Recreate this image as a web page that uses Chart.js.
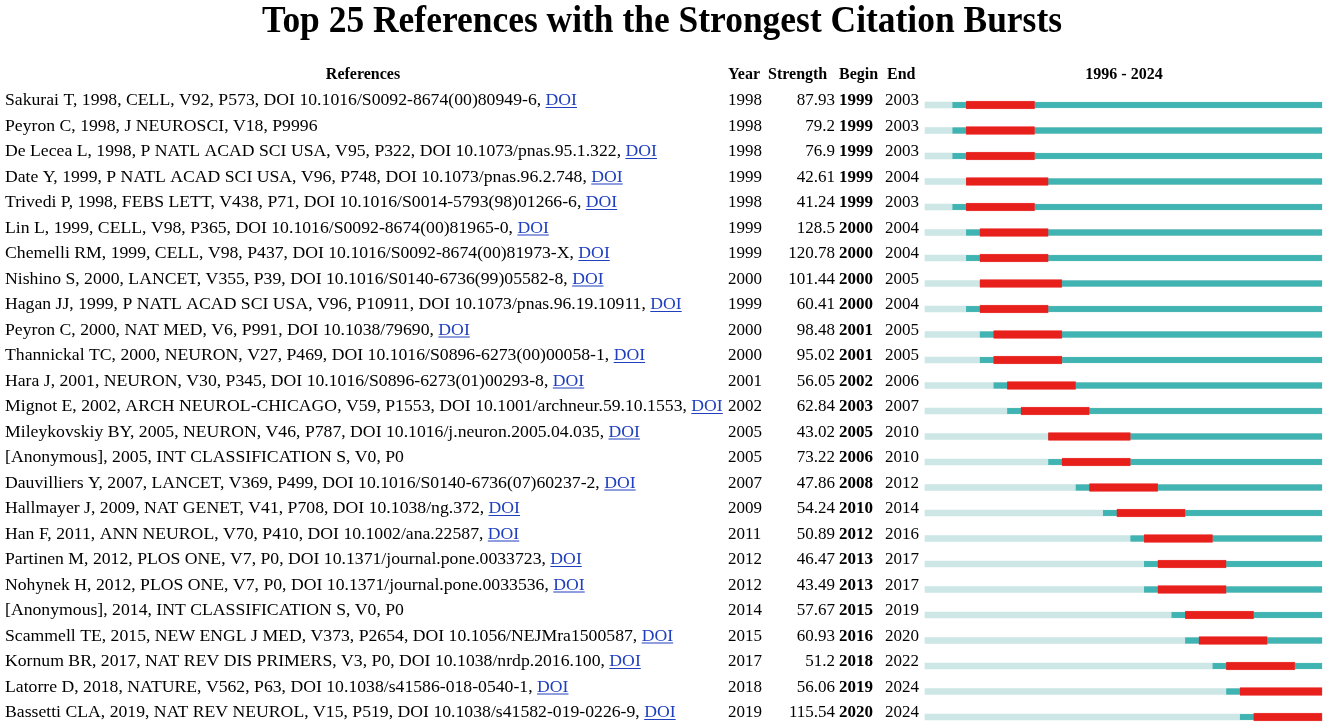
<!DOCTYPE html>
<html>
<head>
<meta charset="utf-8">
<script src="https://cdn.jsdelivr.net/npm/chart.js@4"></script>
<style>
  html, body { margin: 0; padding: 0; background: #fff; }
  canvas { display: block; }
</style>
</head>
<body>
<canvas id="chart" width="1325" height="725"></canvas>
<script>
const TITLE = 'Top 25 References with the Strongest Citation Bursts'
const FIRST_YEAR = 1996
const LAST_YEAR = 2024

const references = [
    'Sakurai T, 1998, CELL, V92, P573, DOI 10.1016/S0092-8674(00)80949-6, ',
    'Peyron C, 1998, J NEUROSCI, V18, P9996',
    'De Lecea L, 1998, P NATL ACAD SCI USA, V95, P322, DOI 10.1073/pnas.95.1.322, ',
    'Date Y, 1999, P NATL ACAD SCI USA, V96, P748, DOI 10.1073/pnas.96.2.748, ',
    'Trivedi P, 1998, FEBS LETT, V438, P71, DOI 10.1016/S0014-5793(98)01266-6, ',
    'Lin L, 1999, CELL, V98, P365, DOI 10.1016/S0092-8674(00)81965-0, ',
    'Chemelli RM, 1999, CELL, V98, P437, DOI 10.1016/S0092-8674(00)81973-X, ',
    'Nishino S, 2000, LANCET, V355, P39, DOI 10.1016/S0140-6736(99)05582-8, ',
    'Hagan JJ, 1999, P NATL ACAD SCI USA, V96, P10911, DOI 10.1073/pnas.96.19.10911, ',
    'Peyron C, 2000, NAT MED, V6, P991, DOI 10.1038/79690, ',
    'Thannickal TC, 2000, NEURON, V27, P469, DOI 10.1016/S0896-6273(00)00058-1, ',
    'Hara J, 2001, NEURON, V30, P345, DOI 10.1016/S0896-6273(01)00293-8, ',
    'Mignot E, 2002, ARCH NEUROL-CHICAGO, V59, P1553, DOI 10.1001/archneur.59.10.1553, ',
    'Mileykovskiy BY, 2005, NEURON, V46, P787, DOI 10.1016/j.neuron.2005.04.035, ',
    '[Anonymous], 2005, INT CLASSIFICATION S, V0, P0',
    'Dauvilliers Y, 2007, LANCET, V369, P499, DOI 10.1016/S0140-6736(07)60237-2, ',
    'Hallmayer J, 2009, NAT GENET, V41, P708, DOI 10.1038/ng.372, ',
    'Han F, 2011, ANN NEUROL, V70, P410, DOI 10.1002/ana.22587, ',
    'Partinen M, 2012, PLOS ONE, V7, P0, DOI 10.1371/journal.pone.0033723, ',
    'Nohynek H, 2012, PLOS ONE, V7, P0, DOI 10.1371/journal.pone.0033536, ',
    '[Anonymous], 2014, INT CLASSIFICATION S, V0, P0',
    'Scammell TE, 2015, NEW ENGL J MED, V373, P2654, DOI 10.1056/NEJMra1500587, ',
    'Kornum BR, 2017, NAT REV DIS PRIMERS, V3, P0, DOI 10.1038/nrdp.2016.100, ',
    'Latorre D, 2018, NATURE, V562, P63, DOI 10.1038/s41586-018-0540-1, ',
    'Bassetti CLA, 2019, NAT REV NEUROL, V15, P519, DOI 10.1038/s41582-019-0226-9, '
]
const hasDoiLink = [true, false, true, true, true, true, true, true, true, true, true, true, true,
    true, false, true, true, true, true, true, false, true, true, true, true]
const years = [1998, 1998, 1998, 1999, 1998, 1999, 1999, 2000, 1999, 2000, 2000, 2001, 2002,
    2005, 2005, 2007, 2009, 2011, 2012, 2012, 2014, 2015, 2017, 2018, 2019]
const strengths = ['87.93', '79.2', '76.9', '42.61', '41.24', '128.5', '120.78', '101.44', '60.41',
    '98.48', '95.02', '56.05', '62.84', '43.02', '73.22', '47.86', '54.24', '50.89', '46.47',
    '43.49', '57.67', '60.93', '51.2', '56.06', '115.54']
const begins = [1999, 1999, 1999, 1999, 1999, 2000, 2000, 2000, 2000, 2001, 2001, 2002, 2003,
    2005, 2006, 2008, 2010, 2012, 2013, 2013, 2015, 2016, 2018, 2019, 2020]
const ends = [2003, 2003, 2003, 2004, 2003, 2004, 2004, 2005, 2004, 2005, 2005, 2006, 2007,
    2010, 2010, 2012, 2014, 2016, 2017, 2017, 2019, 2020, 2022, 2024, 2024]

const LIGHT = '#cde6e6'
const TEAL = '#3fb4b2'
const RED = '#e8201c'
const LINK = '#1f3fbf'
const SERIF = '"Liberation Serif", "Times New Roman", serif'

function drawText(ctx, text, x, y, align, sx) {
    ctx.save()
    ctx.translate(x, y)
    ctx.scale(sx, 1)
    ctx.textAlign = align
    ctx.fillText(text, 0, 0)
    ctx.restore()
}

const tablePlugin = {
    id: 'burstTable',
    afterDraw(chart) {
        const ctx = chart.ctx
        const yScale = chart.scales.y
        ctx.save()
        ctx.fillStyle = '#000'
        ctx.textBaseline = 'alphabetic'

        // title
        ctx.font = 'bold 38px ' + SERIF
        const titleScale = 800 / ctx.measureText(TITLE).width
        drawText(ctx, TITLE, 662, 32, 'center', titleScale)

        // headers
        ctx.font = 'bold 16px ' + SERIF
        drawText(ctx, 'References', 363, 79, 'center', 1)
        drawText(ctx, 'Year', 728, 79, 'left', 1)
        drawText(ctx, 'Strength', 768, 79, 'left', 1)
        drawText(ctx, 'Begin', 839, 79, 'left', 1)
        drawText(ctx, 'End', 887, 79, 'left', 1)
        drawText(ctx, FIRST_YEAR + ' - ' + LAST_YEAR, 1124, 79, 'center', 1)

        ctx.font = '17px ' + SERIF
        const refScale = 572 / ctx.measureText(references[0] + 'DOI').width

        references.forEach((ref, i) => {
            const y = yScale.getPixelForValue(i)
            ctx.font = '17px ' + SERIF
            ctx.fillStyle = '#000'
            drawText(ctx, ref, 5, y, 'left', refScale)
            if (hasDoiLink[i]) {
                const x = 5 + ctx.measureText(ref).width * refScale
                const w = ctx.measureText('DOI').width * refScale
                ctx.fillStyle = LINK
                drawText(ctx, 'DOI', x, y, 'left', refScale)
                ctx.fillRect(x, y + 2, w, 1)
                ctx.fillStyle = '#000'
            }
            drawText(ctx, String(years[i]), 728, y, 'left', 1)
            drawText(ctx, strengths[i], 835, y, 'right', 1)
            drawText(ctx, String(ends[i]), 919, y, 'right', 1)
            ctx.font = 'bold 17px ' + SERIF
            drawText(ctx, String(begins[i]), 839, y, 'left', 1)
        })
        ctx.restore()
    }
}

const rows = references.map((r, i) => i)

const data = {
    labels: rows,
    datasets: [
        {
            label: 'burst',
            data: begins.map((b, i) => [b, ends[i] + 1]),
            backgroundColor: RED,
            borderColor: '#f04040',
            borderWidth: 0.5,
            barThickness: 8,
            order: 0
        },
        {
            label: 'present',
            data: years.map(y => [y, LAST_YEAR + 1]),
            backgroundColor: TEAL,
            borderColor: '#35a5a3',
            borderWidth: 0.5,
            barThickness: 6,
            order: 1
        },
        {
            label: 'absent',
            data: years.map(y => [FIRST_YEAR, y]),
            backgroundColor: LIGHT,
            borderWidth: 0,
            barThickness: 6,
            order: 2
        }
    ]
}

const config = {
    type: 'bar',
    data: data,
    options: {
        responsive: false,
        animation: false,
        devicePixelRatio: 1,
        indexAxis: 'y',
        layout: {
            padding: { left: 925, right: 3, top: 105, bottom: 8 }
        },
        datasets: {
            bar: { grouped: false, clip: false }
        },
        plugins: {
            legend: { display: false },
            title: { display: false },
            tooltip: { enabled: false }
        },
        scales: {
            x: {
                type: 'linear',
                min: FIRST_YEAR,
                max: LAST_YEAR + 1,
                display: false
            },
            y: {
                type: 'category',
                offset: false,
                display: false
            }
        }
    },
    plugins: [tablePlugin]
}

new Chart(document.getElementById('chart'), config)
</script>
</body>
</html>
